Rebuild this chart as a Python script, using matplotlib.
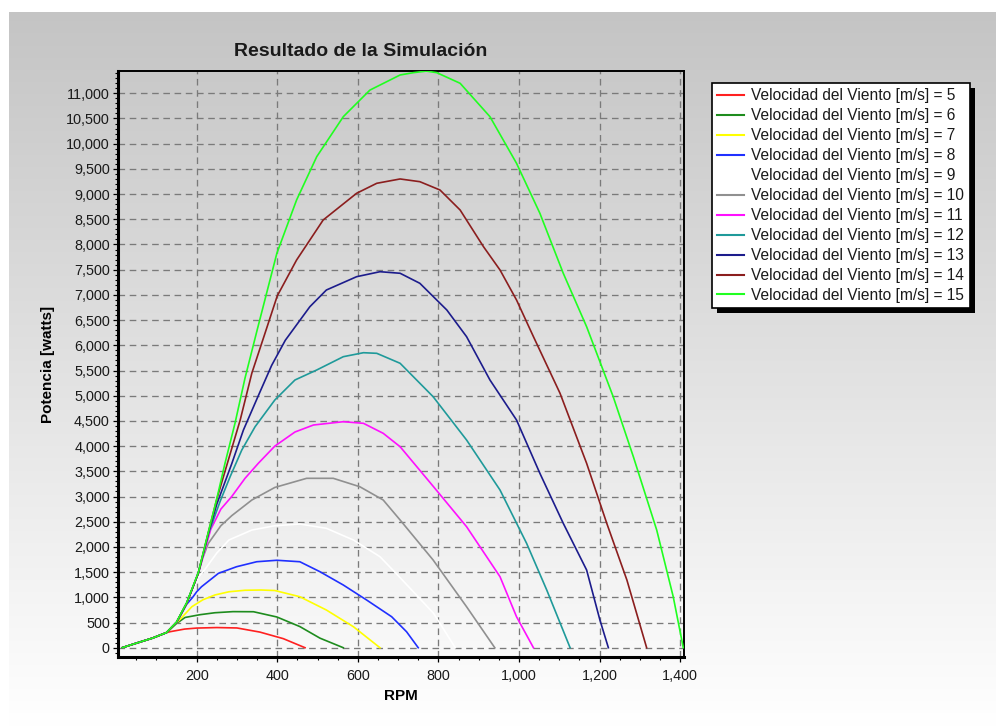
import numpy as np
import matplotlib.pyplot as plt
from matplotlib.lines import Line2D
from matplotlib.patches import Rectangle
from matplotlib.ticker import MultipleLocator, FuncFormatter

plt.rcParams['font.family'] = ['Liberation Sans', 'DejaVu Sans']

W_PX, H_PX = 996, 727

# shared low-rpm ramp, every curve sits on it
RAMP_RPM = [15, 50, 90, 125]
RAMP_W = [0, 90, 190, 300]

WIND = [5, 6, 7, 8, 9, 10, 11, 12, 13, 14, 15]
COLORS = ["#ff2020", "#1e8c1e", "#ffff00", "#2030ff", "#ffffff", "#909090",
          "#ff10ff", "#1f9a9a", "#1c1c8c", "#8b1e1e", "#20ff20"]

RPM_5 = [134, 170, 200, 250, 300, 357, 415, 469]
W_5 = [318, 370, 390, 400, 392, 310, 180, 0]

RPM_6 = [150, 171, 208, 245, 290, 341, 399, 456, 506, 564]
W_6 = [480, 600, 655, 694, 716, 714, 610, 420, 190, 0]

RPM_7 = [150, 170, 188, 215, 245, 280, 320, 360, 394, 456, 522, 589, 655]
W_7 = [490, 660, 814, 950, 1046, 1110, 1140, 1145, 1135, 1012, 748, 417, 0]

RPM_8 = [150, 175, 190, 200, 212, 254, 299, 349, 399, 456, 506, 564, 622, 684, 721, 750]
W_8 = [495, 860, 1000, 1110, 1210, 1476, 1607, 1706, 1735, 1706, 1508, 1244, 946, 615, 317, 0]

RPM_9 = [150, 175, 204, 221, 250, 280, 337, 394, 456, 522, 589, 655, 705, 788, 842]
W_9 = [500, 880, 1400, 1560, 1880, 2137, 2335, 2420, 2454, 2369, 2137, 1806, 1390, 683, 0]

RPM_10 = [150, 175, 204, 215, 229, 260, 287, 337, 394, 473, 539, 605, 663, 705, 787, 870, 940]
W_10 = [500, 880, 1470, 1780, 2071, 2420, 2620, 2931, 3180, 3361, 3361, 3194, 2931, 2534, 1740, 813, 0]

RPM_11 = [150, 175, 204, 235, 260, 287, 320, 353, 394, 444, 490, 564, 614, 663, 705, 788, 870, 953, 994, 1036]
W_11 = [505, 880, 1480, 2350, 2750, 3000, 3361, 3659, 4000, 4280, 4419, 4484, 4452, 4254, 3988, 3194, 2401, 1409, 615, 0]

RPM_12 = [150, 175, 204, 230, 258, 283, 312, 345, 394, 444, 498, 564, 614, 647, 705, 787, 870, 953, 1019, 1069, 1127]
W_12 = [505, 880, 1480, 2280, 2900, 3393, 3923, 4385, 4915, 5312, 5510, 5774, 5853, 5841, 5643, 4980, 4121, 3129, 2071, 1145, 0]

RPM_13 = [150, 175, 204, 230, 250, 287, 316, 353, 386, 420, 481, 522, 597, 655, 705, 754, 821, 870, 928, 994, 1052, 1110, 1168, 1201, 1222]
W_13 = [505, 880, 1480, 2300, 2850, 3650, 4319, 5000, 5600, 6100, 6766, 7097, 7361, 7460, 7429, 7230, 6700, 6171, 5312, 4518, 3460, 2468, 1542, 550, 0]

RPM_14 = [150, 175, 204, 230, 250, 274, 308, 337, 368, 400, 448, 514, 597, 647, 705, 754, 804, 854, 912, 953, 994, 1036, 1102, 1168, 1218, 1268, 1317]
W_14 = [505, 880, 1480, 2320, 2950, 3600, 4518, 5450, 6200, 6980, 7692, 8486, 9016, 9214, 9300, 9246, 9081, 8684, 7956, 7494, 6899, 6171, 5048, 3659, 2468, 1343, 0]

RPM_15 = [150, 175, 204, 230, 250, 270, 295, 320, 350, 399, 448, 498, 564, 630, 705, 738, 770, 796, 854, 928, 994, 1052, 1110, 1168, 1234, 1284, 1342, 1383, 1408]
W_15 = [510, 890, 1490, 2330, 2960, 3650, 4450, 5350, 6300, 7825, 8883, 9742, 10536, 11063, 11363, 11409, 11440, 11409, 11198, 10536, 9611, 8619, 7429, 6369, 4980, 3790, 2335, 1012, 0]

CURVES = [(RPM_5, W_5), (RPM_6, W_6), (RPM_7, W_7), (RPM_8, W_8), (RPM_9, W_9),
          (RPM_10, W_10), (RPM_11, W_11), (RPM_12, W_12), (RPM_13, W_13),
          (RPM_14, W_14), (RPM_15, W_15)]


def px_x(x):
    return x / W_PX


def px_y(y):
    return 1 - y / H_PX


fig = plt.figure(figsize=(W_PX / 100, H_PX / 100), dpi=100, facecolor="white")

# grey-to-white backdrop behind the whole chart
bg = fig.add_axes([px_x(9), 0, 1 - px_x(9), px_y(12)], zorder=-10)
shade = np.linspace(0.77, 1.0, 256)
grad = np.repeat(shade[:, None, None], 3, axis=2)
bg.imshow(grad, aspect="auto", extent=(0, 1, 0, 1), interpolation="bilinear")
bg.axis("off")

left, right, top, bottom = 118.3, 684.3, 71, 657.3
ax = fig.add_axes([px_x(left), px_y(bottom), (right - left) / W_PX, (bottom - top) / H_PX])
ax.set_facecolor("none")

for (rpm, w), c in zip(CURVES, COLORS):
    xs = RAMP_RPM + list(rpm)
    ys = RAMP_W + list(w)
    ax.plot(xs, ys, color=c, lw=1.2, zorder=3, solid_joinstyle="round")

ax.set_xlim(5.4, 1410.5)
ax.set_ylim(-190, 11442)

ax.xaxis.set_major_locator(MultipleLocator(200))
ax.xaxis.set_minor_locator(MultipleLocator(50))
ax.yaxis.set_major_locator(MultipleLocator(500))
ax.yaxis.set_minor_locator(MultipleLocator(100))
fmt = FuncFormatter(lambda v, p: f"{int(round(v)):,}")
ax.xaxis.set_major_formatter(fmt)
ax.yaxis.set_major_formatter(fmt)

ax.grid(True, which="major", color="#7a7a7a", lw=0.95, ls=(0, (5, 3.5)), zorder=1)
ax.set_axisbelow(True)

ax.tick_params(axis="x", which="major", direction="out", length=3.6, width=0.9,
               pad=4.5, labelsize=10.4, labelcolor="#1a1a1a")
ax.tick_params(axis="y", which="major", direction="out", length=3.6, width=0.9,
               pad=2.5, labelsize=10.4, labelcolor="#1a1a1a")
ax.tick_params(axis="both", which="minor", direction="out", length=2.5, width=0.8)

for side in ["left", "bottom"]:
    ax.spines[side].set_linewidth(2.2)
for side in ["top", "right"]:
    ax.spines[side].set_linewidth(1.4)

ax.set_xlabel("RPM", fontsize=11, fontweight="bold")
ax.xaxis.set_label_coords(0.5, -0.054)
ax.set_ylabel("Potencia [watts]", fontsize=11, fontweight="bold")
ax.yaxis.set_label_coords(-0.112, 0.5)

fig.text(px_x(361), px_y(52), "Resultado de la Simulación", ha="center", va="center",
         fontsize=14, fontweight="bold", color="#1a1a1a")

handles = [Line2D([], [], color=c, lw=1.5) for c in COLORS]
labels = [f"Velocidad del Viento [m/s] = {v}" for v in WIND]
leg = fig.legend(handles, labels, loc="upper left",
                 bbox_to_anchor=(px_x(711.7), px_y(82.7)), bbox_transform=fig.transFigure,
                 borderaxespad=0, fancybox=False, framealpha=1, facecolor="white",
                 edgecolor="black", fontsize=11.2, handlelength=1.75, handletextpad=0.45,
                 labelspacing=0.32, borderpad=0.35)
leg.get_frame().set_linewidth(1.2)
for t in leg.get_texts():
    t.set_color("#1a1a1a")

# hard black drop shadow like the original legend box
fig.canvas.draw()
bb = leg.get_window_extent()
fig.add_artist(Rectangle(((bb.x0 + 5) / W_PX, (bb.y0 - 5) / H_PX), bb.width / W_PX,
                         bb.height / H_PX, transform=fig.transFigure,
                         facecolor="black", edgecolor="none", zorder=4))

fig.savefig("out.png", dpi=100)
